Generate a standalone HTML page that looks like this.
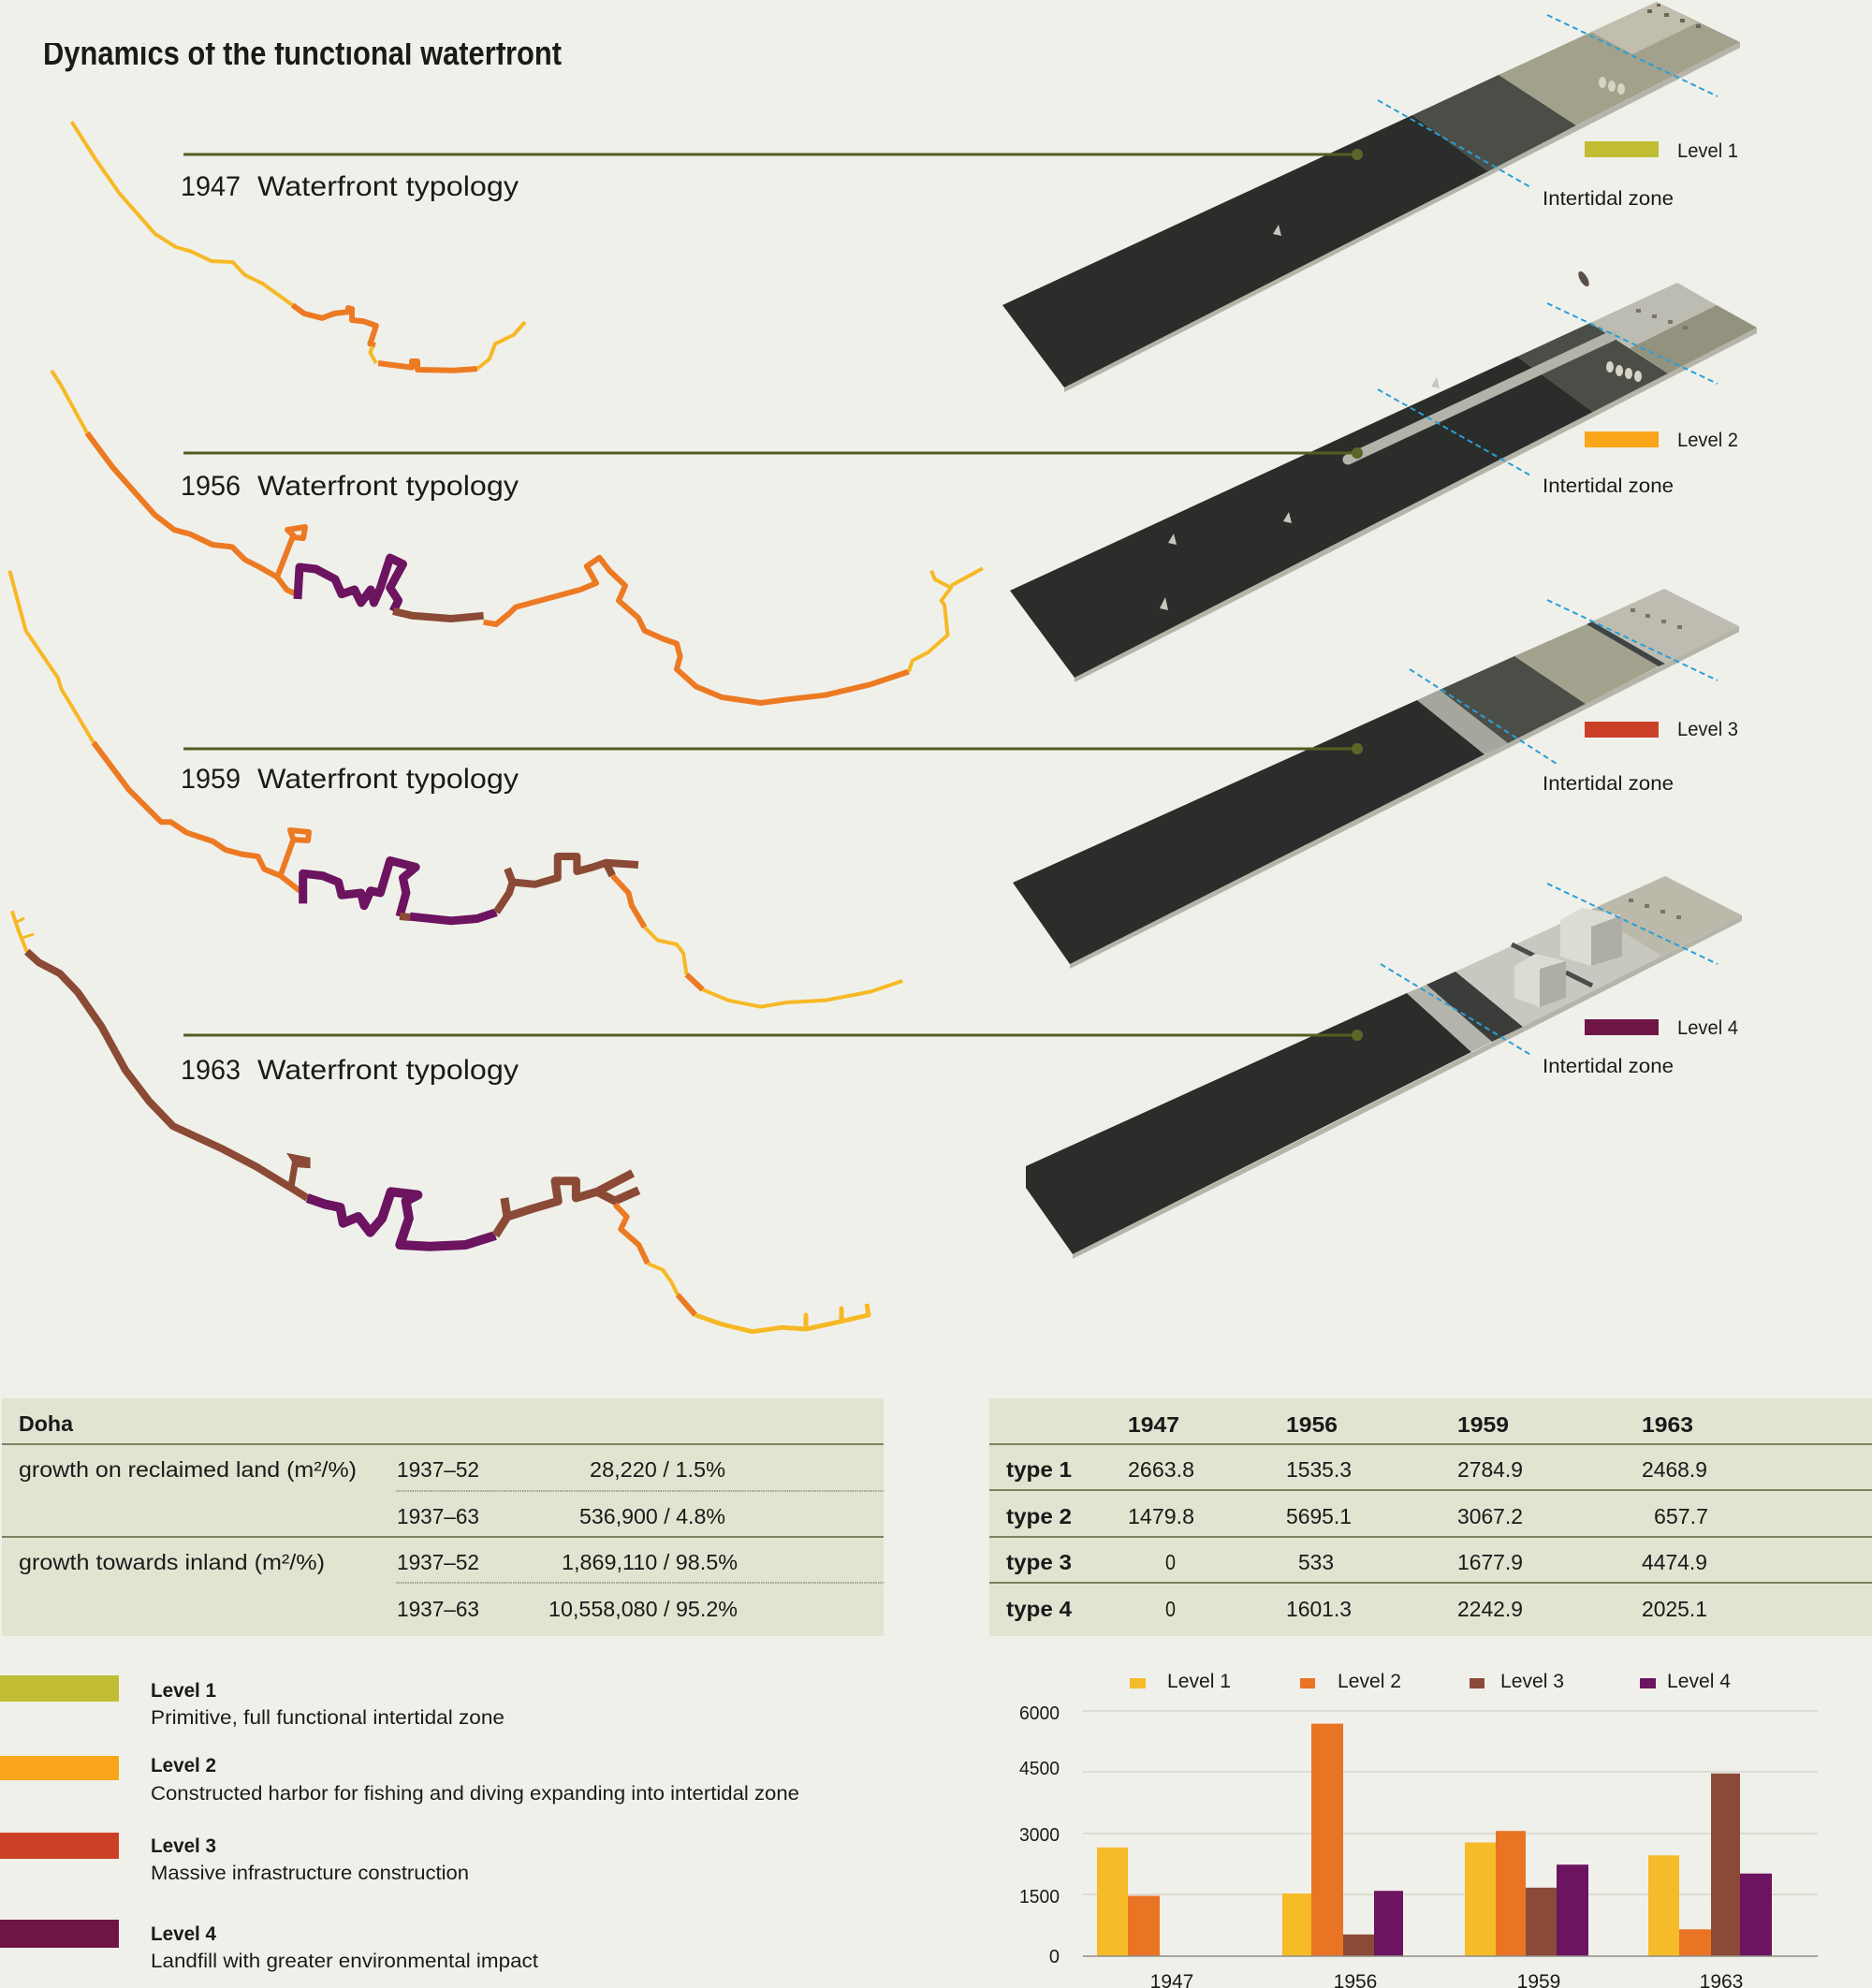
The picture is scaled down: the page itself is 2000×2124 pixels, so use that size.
<!DOCTYPE html>
<html><head><meta charset="utf-8"><style>
html,body{margin:0;padding:0;background:#f0f0eb;}
svg{display:block;}
text{font-family:"Liberation Sans",sans-serif;fill:#1a1a1a;}
</style></head><body>
<svg width="2000" height="2124" viewBox="0 0 2000 2124" xmlns="http://www.w3.org/2000/svg">
<defs><clipPath id="tc"><rect x="0" y="46" width="900" height="60"/></clipPath></defs>
<rect width="2000" height="2124" fill="#f0f0eb"/>
<text x="46" y="69" font-size="36" font-weight="bold" textLength="554" lengthAdjust="spacingAndGlyphs" clip-path="url(#tc)">Dynamics of the functional waterfront</text>

<!-- STRIP 1 -->
<polygon points="1137,414 1353,303 1859,45 1859,51 1353,309 1137,419" fill="#b4b4a8"/>
<polygon points="1071,326 1509,123 1590,183 1137,414" fill="#2b2d2b"/>
<polygon points="1509,123 1601,80 1684,134 1590,183" fill="#4b4e47"/>
<polygon points="1601,80 1770,2 1859,45 1684,134" fill="#a2a18b"/>
<polygon points="1700,34 1770,2 1814,24 1744,58" fill="#c2bead"/>
<g fill="#6d6657"><rect x="1760" y="10" width="5" height="4"/><rect x="1778" y="14" width="5" height="4"/><rect x="1795" y="20" width="5" height="4"/><rect x="1812" y="26" width="5" height="4"/><rect x="1770" y="4" width="4" height="3"/></g>
<g fill="#d8d4c4"><ellipse cx="1712" cy="88" rx="4" ry="6"/><ellipse cx="1722" cy="92" rx="4" ry="6"/><ellipse cx="1732" cy="95" rx="4" ry="6"/></g>
<polygon points="1360,250 1366,240 1369,252" fill="#c8c6bc"/>
<!-- STRIP 2 -->
<polygon points="1148,724 1400,595 1877,350 1877,356 1400,601 1148,729" fill="#b4b4a8"/>
<polygon points="1079,631 1621,381 1702,440 1148,724" fill="#2b2d2b"/>
<polygon points="1621,381 1699,345 1782,399 1702,440" fill="#4b4e47"/>
<polygon points="1699,345 1792,302 1834,326 1741,372" fill="#bdbcb2"/>
<polygon points="1741,372 1834,326 1877,350 1782,399" fill="#93927f"/>
<line x1="1440" y1="491" x2="1722" y2="359" stroke="#b3b3aa" stroke-width="11" stroke-linecap="round"/>
<g fill="#d8d4c4"><ellipse cx="1720" cy="392" rx="4" ry="6"/><ellipse cx="1730" cy="396" rx="4" ry="6"/><ellipse cx="1740" cy="399" rx="4" ry="6"/><ellipse cx="1750" cy="402" rx="4" ry="6"/></g>
<g fill="#7a7466"><rect x="1748" y="330" width="5" height="4"/><rect x="1765" y="336" width="5" height="4"/><rect x="1782" y="342" width="5" height="4"/><rect x="1798" y="348" width="5" height="4"/></g>
<polygon points="1529,413 1535,403 1538,415" fill="#c8c6bc"/>
<polygon points="1371,557 1377,547 1380,559" fill="#c8c6bc"/>
<polygon points="1248,580 1254,570 1257,582" fill="#c8c6bc"/>
<polygon points="1239,650 1245,638 1248,652" fill="#c8c6bc"/>
<ellipse cx="1692" cy="298" rx="4" ry="9" fill="#5a5048" transform="rotate(-30 1692 298)"/>
<!-- STRIP 3 -->
<polygon points="1143,1030 1400,900 1858,669 1858,675 1400,906 1143,1035" fill="#b4b4a8"/>
<polygon points="1082,943 1514,748 1586,806 1143,1030" fill="#2b2d2b"/>
<polygon points="1514,748 1538,737 1611,794 1586,806" fill="#a6a69e"/>
<polygon points="1538,737 1618,701 1694,752 1611,794" fill="#4b4e47"/>
<polygon points="1618,701 1695,667 1772,712 1694,752" fill="#a3a28e"/>
<polygon points="1695,667 1701,664 1779,709 1772,712" fill="#3e4445"/>
<polygon points="1701,664 1778,629 1858,669 1779,709" fill="#bebcb0"/>
<g fill="#7a7466"><rect x="1742" y="650" width="5" height="4"/><rect x="1758" y="656" width="5" height="4"/><rect x="1775" y="662" width="5" height="4"/><rect x="1792" y="668" width="5" height="4"/></g>
<!-- STRIP 4 -->
<polygon points="1146,1340 1400,1212 1861,978 1861,984 1400,1218 1146,1345" fill="#b4b4a8"/>
<polygon points="1096,1246 1503,1061 1572,1124 1146,1340 1096,1269" fill="#2b2d2b"/>
<polygon points="1503,1061 1524,1052 1594,1113 1572,1124" fill="#b4b4ac"/>
<polygon points="1524,1052 1555,1038 1627,1097 1594,1113" fill="#3b3d3b"/>
<polygon points="1555,1038 1779,936 1861,978 1627,1097" fill="#c8c8c1"/>
<polygon points="1697,973 1779,936 1861,978 1775,1021" fill="#bcb9ab"/>
<line x1="1615" y1="1009" x2="1641" y2="1022" stroke="#4a4c4a" stroke-width="5"/>
<line x1="1673" y1="1039" x2="1701" y2="1053" stroke="#4a4c4a" stroke-width="5"/>
<g fill="#7a7466"><rect x="1740" y="960" width="5" height="4"/><rect x="1757" y="966" width="5" height="4"/><rect x="1774" y="972" width="5" height="4"/><rect x="1791" y="978" width="5" height="4"/></g>
<polygon points="1667,983 1690,970 1733,978 1733,1022 1700,1032 1667,1022" fill="#dcdcd5"/>
<polygon points="1700,990 1733,978 1733,1022 1700,1032" fill="#aeaea6"/>
<polygon points="1618,1032 1640,1019 1673,1027 1673,1066 1645,1076 1618,1066" fill="#dcdcd5"/>
<polygon points="1645,1035 1673,1027 1673,1066 1645,1076" fill="#aeaea6"/>

<!-- blue dashed lines -->
<g stroke="#2a9fd6" stroke-width="2" stroke-dasharray="6 4" fill="none">
<line x1="1472" y1="107" x2="1637" y2="201"/><line x1="1653" y1="16" x2="1835" y2="103"/>
<line x1="1472" y1="416" x2="1637" y2="509"/><line x1="1653" y1="324" x2="1835" y2="410"/>
<line x1="1506" y1="715" x2="1663" y2="816"/><line x1="1653" y1="641" x2="1835" y2="727"/>
<line x1="1475" y1="1030" x2="1637" y2="1128"/><line x1="1653" y1="944" x2="1835" y2="1030"/>
</g>

<!-- connector lines -->
<g stroke="#525e22" stroke-width="3">
<line x1="196" y1="165" x2="1450" y2="165"/><line x1="196" y1="484" x2="1450" y2="484"/>
<line x1="196" y1="800" x2="1450" y2="800"/><line x1="196" y1="1106" x2="1450" y2="1106"/>
</g>
<g fill="#5a6626"><circle cx="1450" cy="165" r="6"/><circle cx="1450" cy="484" r="6"/><circle cx="1450" cy="800" r="6"/><circle cx="1450" cy="1106" r="6"/></g>

<!-- headings -->
<g font-size="30">
<text x="193" y="209" textLength="64" lengthAdjust="spacingAndGlyphs">1947</text><text x="275" y="209" textLength="279" lengthAdjust="spacingAndGlyphs">Waterfront typology</text>
<text x="193" y="529" textLength="64" lengthAdjust="spacingAndGlyphs">1956</text><text x="275" y="529" textLength="279" lengthAdjust="spacingAndGlyphs">Waterfront typology</text>
<text x="193" y="842" textLength="64" lengthAdjust="spacingAndGlyphs">1959</text><text x="275" y="842" textLength="279" lengthAdjust="spacingAndGlyphs">Waterfront typology</text>
<text x="193" y="1153" textLength="64" lengthAdjust="spacingAndGlyphs">1963</text><text x="275" y="1153" textLength="279" lengthAdjust="spacingAndGlyphs">Waterfront typology</text>
</g>

<!-- right legend -->
<rect x="1693" y="151" width="79" height="17" fill="#c0bd33"/>
<rect x="1693" y="461" width="79" height="17" fill="#faa61a"/>
<rect x="1693" y="771" width="79" height="17" fill="#cb4027"/>
<rect x="1693" y="1089" width="79" height="17" fill="#6f1546"/>
<g font-size="21">
<text x="1792" y="168" textLength="65" lengthAdjust="spacingAndGlyphs">Level 1</text>
<text x="1648" y="219" textLength="140" lengthAdjust="spacingAndGlyphs">Intertidal zone</text>
<text x="1792" y="477" textLength="65" lengthAdjust="spacingAndGlyphs">Level 2</text>
<text x="1648" y="526" textLength="140" lengthAdjust="spacingAndGlyphs">Intertidal zone</text>
<text x="1792" y="786" textLength="65" lengthAdjust="spacingAndGlyphs">Level 3</text>
<text x="1648" y="844" textLength="140" lengthAdjust="spacingAndGlyphs">Intertidal zone</text>
<text x="1792" y="1105" textLength="65" lengthAdjust="spacingAndGlyphs">Level 4</text>
<text x="1648" y="1146" textLength="140" lengthAdjust="spacingAndGlyphs">Intertidal zone</text>
</g>

<!-- COASTLINES -->
<g fill="none" stroke-linejoin="round" stroke-linecap="butt">
<!-- 1947 -->
<polyline stroke="#f6b925" stroke-width="4" points="76.5,130 102,170 127.6,206.6 165.8,250 188,264 204,268.6 226,279 248.7,280 261.5,293.8 280.6,303 299.7,316.8 312.5,326"/>
<polyline stroke="#ec7a23" stroke-width="6" points="312.5,326 325,335 344,339.8 357,335 373,333 372,329 376,330 376,342 389,343.4 401.8,348 398,360 395.4,367.3 401,369"/>
<polyline stroke="#f6b925" stroke-width="4" points="398,370 395.4,376.5 401.8,388"/>
<polyline stroke="#ec7a23" stroke-width="6" points="404,388 440,392.6 440,386 446,386 446,395 484.7,395.8 510,394"/>
<polyline stroke="#f6b925" stroke-width="4" points="510,394 523,383.4 529,367.3 548.5,358 561,344"/>
<!-- 1956 -->
<polyline stroke="#f6b925" stroke-width="4" points="55.1,396 65.4,412 93,462.6"/>
<polyline stroke="#ec7a23" stroke-width="6" points="93,462.6 120.5,499.4 165.3,550 186,566 203,570.6 227,582 248,584.3 261.7,598 275.5,605 296,616.5 306.5,630.3 316.8,634.8"/>
<polyline stroke="#ec7a23" stroke-width="6" points="296,616.5 313.4,572 307,566 326,563 324,575 313,574"/>
<polyline stroke="#6c1460" stroke-width="9" points="318,640 320,606 337.5,608 358,618.8 365,634.8 378.8,630 385.7,644 396,630 399.5,644 406.4,628 416.7,596 430.5,602.7 416.7,628 425.6,641.7 420,653"/>
<polyline stroke="#8b4a35" stroke-width="8" points="420,653 440.8,657.8 482,661 516.6,657.8"/>
<polyline stroke="#ec7a23" stroke-width="6" points="516.6,664.7 530,667 544,655.5 551,648.6 585.4,639.4 620,630 637,623 626.8,605 640.5,595.8 651,609.6 668,625.7 661,641.7 681.9,660 688.7,673.9 709.4,683 723,687.6 726.6,701.4 723,715 743.8,733.6 771.4,745 812.7,751 840.3,747.3 881.6,742.7 929.8,731.3 971,717.5"/>
<polyline stroke="#f6b925" stroke-width="4" points="971,717.5 974.6,706 991.8,696.8 1012.5,678.5 1009,646 1005.6,641.7 1016,628 998.7,618.8 995,609.6"/>
<polyline stroke="#f6b925" stroke-width="4" points="1016,625.7 1050,607.3"/>
<!-- 1959 -->
<polyline stroke="#f6b925" stroke-width="4" points="10.3,609.6 27.6,673.9 62,724.4 65.4,735.9 99.9,793.3"/>
<polyline stroke="#ec7a23" stroke-width="6" points="99.9,793.3 137.7,843.8 172.2,878.2 182.5,878.2 199.7,889.7 227.3,898.9 241,908 258.3,912.6 275.5,915 282.4,928.7 299.6,935.6 320.3,951.7"/>
<polyline stroke="#ec7a23" stroke-width="6" points="299.6,935.6 313.4,897 310,887 330,889 329,898 313,897"/>
<polyline stroke="#6c1460" stroke-width="9" points="323.7,965.4 323.7,933.3 344.4,935.6 361.6,942.5 365,956.3 385.7,954 389,967.7 396,951.7 406.4,954 416.7,919.5 444.2,926.4 430.5,937.9 433.9,954 427,979.2"/>
<polyline stroke="#6c1460" stroke-width="9" points="438,979.2 482,983.8 509.7,981.5 530.3,974.6"/>
<polyline stroke="#8b4a35" stroke-width="8" points="427,979 438,980"/>
<polyline stroke="#8b4a35" stroke-width="8" points="530.3,974.6 544,954 547.6,942.5 571.7,944.8 595.8,937.9 595.8,915 616.4,915 616.4,931 633.7,926.4 647.4,921.8 654.3,935.6"/>
<polyline stroke="#8b4a35" stroke-width="8" points="647.4,921.8 681.9,924"/>
<polyline stroke="#8b4a35" stroke-width="8" points="547.6,942.5 542,928"/>
<polyline stroke="#ec7a23" stroke-width="6" points="654.3,935.6 671.5,954 675,967.7 688.7,990.7"/>
<polyline stroke="#f6b925" stroke-width="4" points="688.7,990.7 702.5,1004.5 723,1009 730,1018.3 733.5,1041.2"/>
<polyline stroke="#ec7a23" stroke-width="6" points="733.5,1041.2 750.7,1057.3"/>
<polyline stroke="#f6b925" stroke-width="4" points="750.7,1057.3 778.3,1068.8 812.7,1075.7 840.3,1071 881.6,1068.8 929.8,1059.6 964.2,1048"/>
<!-- 1963 -->
<polyline stroke="#f6b925" stroke-width="4" points="12.8,973.3 20,995 28.7,1016.7"/>
<polyline stroke="#f6b925" stroke-width="3" points="18,985 26,981"/>
<polyline stroke="#f6b925" stroke-width="3" points="24,1002 36,998"/>
<polyline stroke="#8b4a35" stroke-width="8" points="28.7,1016.7 41.5,1028.3 63.8,1040 83,1060 108.4,1096.7 134,1143.3 159.4,1176.7 185,1203.3 236,1226.7 274.2,1246.7 312.5,1270 328.4,1280"/>
<polyline stroke="#8b4a35" stroke-width="7" points="311,1268 315.7,1240"/>
<polygon fill="#8b4a35" points="306,1231.7 331.6,1236.7 331.6,1248.3 315.7,1247"/>
<polyline stroke="#6c1460" stroke-width="10" points="328.4,1280 347.6,1286.7 363.5,1290 366.7,1306.7 382.7,1300 395.4,1316.7 408.2,1301.7 417.7,1273.3 446.4,1276.7 433.7,1283.3 436.9,1301.7 427.3,1330 459.2,1331.7 497.4,1330 529.3,1320"/>
<polyline stroke="#8b4a35" stroke-width="9" points="529.3,1320 542,1300 538.9,1280"/>
<polyline stroke="#8b4a35" stroke-width="9" points="542,1300 567.6,1291.7 596.3,1283.3 593,1261.7 615.4,1261.7 615.4,1280 637.8,1273.3 656.9,1263.3 676,1253.3"/>
<polyline stroke="#8b4a35" stroke-width="9" points="637.8,1273.3 656.9,1283 682.4,1271.7"/>
<polyline stroke="#ec7a23" stroke-width="6" points="656.9,1286.7 669.6,1300 663.3,1313.3 682.4,1330 692,1350"/>
<polyline stroke="#f6b925" stroke-width="4" points="692,1350 708,1356.7 717.5,1370 723.9,1383.3"/>
<polyline stroke="#ec7a23" stroke-width="6" points="723.9,1383.3 743,1405"/>
<polyline stroke="#f6b925" stroke-width="5" points="743,1405 771.7,1415 803.6,1422.7 835.5,1418.3 861,1420 861,1405 861,1420 899,1411.7 899,1398 899,1411.7 928,1405 926,1393"/>
</g>

<!-- LEFT TABLE -->
<rect x="2" y="1494" width="942" height="254" fill="#dfe5d0"/>
<g stroke="#7b8162" stroke-width="2"><line x1="2" y1="1543" x2="944" y2="1543"/><line x1="2" y1="1642" x2="944" y2="1642"/></g>
<g stroke="#8a8f78" stroke-width="1.5" stroke-dasharray="1.5 1"><line x1="423" y1="1593" x2="944" y2="1593"/><line x1="423" y1="1691" x2="944" y2="1691"/></g>
<g font-size="23">
<text x="20" y="1529" font-weight="bold" textLength="58" lengthAdjust="spacingAndGlyphs">Doha</text>
<text x="20" y="1578" textLength="361" lengthAdjust="spacingAndGlyphs">growth on reclaimed land (m²/%)</text>
<text x="20" y="1677" textLength="327" lengthAdjust="spacingAndGlyphs">growth towards inland (m²/%)</text>
<text x="424" y="1578" textLength="88" lengthAdjust="spacingAndGlyphs">1937–52</text>
<text x="424" y="1628" textLength="88" lengthAdjust="spacingAndGlyphs">1937–63</text>
<text x="424" y="1677" textLength="88" lengthAdjust="spacingAndGlyphs">1937–52</text>
<text x="424" y="1727" textLength="88" lengthAdjust="spacingAndGlyphs">1937–63</text>
<text x="630" y="1578" textLength="145" lengthAdjust="spacingAndGlyphs">28,220 / 1.5%</text>
<text x="619" y="1628" textLength="156" lengthAdjust="spacingAndGlyphs">536,900 / 4.8%</text>
<text x="600" y="1677" textLength="188" lengthAdjust="spacingAndGlyphs">1,869,110 / 98.5%</text>
<text x="586" y="1727" textLength="202" lengthAdjust="spacingAndGlyphs">10,558,080 / 95.2%</text>
</g>

<!-- RIGHT TABLE -->
<rect x="1057" y="1494" width="943" height="254" fill="#dfe5d0"/>
<g stroke="#7b8162" stroke-width="2"><line x1="1057" y1="1543" x2="2000" y2="1543"/><line x1="1057" y1="1592" x2="2000" y2="1592"/><line x1="1057" y1="1642" x2="2000" y2="1642"/><line x1="1057" y1="1691" x2="2000" y2="1691"/></g>
<g font-size="23" font-weight="bold">
<text x="1205" y="1530" textLength="55" lengthAdjust="spacingAndGlyphs">1947</text>
<text x="1374" y="1530" textLength="55" lengthAdjust="spacingAndGlyphs">1956</text>
<text x="1557" y="1530" textLength="55" lengthAdjust="spacingAndGlyphs">1959</text>
<text x="1754" y="1530" textLength="55" lengthAdjust="spacingAndGlyphs">1963</text>
<text x="1075" y="1578" textLength="70" lengthAdjust="spacingAndGlyphs">type 1</text>
<text x="1075" y="1628" textLength="70" lengthAdjust="spacingAndGlyphs">type 2</text>
<text x="1075" y="1677" textLength="70" lengthAdjust="spacingAndGlyphs">type 3</text>
<text x="1075" y="1727" textLength="70" lengthAdjust="spacingAndGlyphs">type 4</text>
</g>
<g font-size="23">
<text x="1205" y="1578" textLength="71" lengthAdjust="spacingAndGlyphs">2663.8</text>
<text x="1374" y="1578" textLength="70" lengthAdjust="spacingAndGlyphs">1535.3</text>
<text x="1557" y="1578" textLength="70" lengthAdjust="spacingAndGlyphs">2784.9</text>
<text x="1754" y="1578" textLength="70" lengthAdjust="spacingAndGlyphs">2468.9</text>
<text x="1205" y="1628" textLength="71" lengthAdjust="spacingAndGlyphs">1479.8</text>
<text x="1374" y="1628" textLength="70" lengthAdjust="spacingAndGlyphs">5695.1</text>
<text x="1557" y="1628" textLength="70" lengthAdjust="spacingAndGlyphs">3067.2</text>
<text x="1767" y="1628" textLength="58" lengthAdjust="spacingAndGlyphs">657.7</text>
<text x="1245" y="1677" textLength="11" lengthAdjust="spacingAndGlyphs">0</text>
<text x="1387" y="1677" textLength="38" lengthAdjust="spacingAndGlyphs">533</text>
<text x="1557" y="1677" textLength="70" lengthAdjust="spacingAndGlyphs">1677.9</text>
<text x="1754" y="1677" textLength="70" lengthAdjust="spacingAndGlyphs">4474.9</text>
<text x="1245" y="1727" textLength="11" lengthAdjust="spacingAndGlyphs">0</text>
<text x="1374" y="1727" textLength="70" lengthAdjust="spacingAndGlyphs">1601.3</text>
<text x="1557" y="1727" textLength="70" lengthAdjust="spacingAndGlyphs">2242.9</text>
<text x="1754" y="1727" textLength="70" lengthAdjust="spacingAndGlyphs">2025.1</text>
</g>

<!-- BOTTOM LEFT LEGEND -->
<rect x="0" y="1790" width="127" height="28" fill="#c0bd33"/>
<rect x="0" y="1876" width="127" height="26" fill="#faa61a"/>
<rect x="0" y="1958" width="127" height="28" fill="#cb4027"/>
<rect x="0" y="2051" width="127" height="30" fill="#6f1546"/>
<g font-size="21">
<text x="161" y="1813" font-weight="bold" textLength="70" lengthAdjust="spacingAndGlyphs">Level 1</text>
<text x="161" y="1842" textLength="378" lengthAdjust="spacingAndGlyphs">Primitive, full functional intertidal zone</text>
<text x="161" y="1893" font-weight="bold" textLength="70" lengthAdjust="spacingAndGlyphs">Level 2</text>
<text x="161" y="1923" textLength="693" lengthAdjust="spacingAndGlyphs">Constructed harbor for fishing and diving expanding into intertidal zone</text>
<text x="161" y="1979" font-weight="bold" textLength="70" lengthAdjust="spacingAndGlyphs">Level 3</text>
<text x="161" y="2008" textLength="340" lengthAdjust="spacingAndGlyphs">Massive infrastructure construction</text>
<text x="161" y="2073" font-weight="bold" textLength="70" lengthAdjust="spacingAndGlyphs">Level 4</text>
<text x="161" y="2102" textLength="414" lengthAdjust="spacingAndGlyphs">Landfill with greater environmental impact</text>
</g>

<!-- BAR CHART -->
<rect x="1207" y="1793" width="17" height="11" fill="#f5bb29"/>
<rect x="1389" y="1793" width="16" height="11" fill="#e97424"/>
<rect x="1570" y="1793" width="16" height="11" fill="#8b4a37"/>
<rect x="1752" y="1793" width="17" height="11" fill="#6c1460"/>
<g font-size="21">
<text x="1247" y="1803" textLength="68" lengthAdjust="spacingAndGlyphs">Level 1</text>
<text x="1429" y="1803" textLength="68" lengthAdjust="spacingAndGlyphs">Level 2</text>
<text x="1603" y="1803" textLength="68" lengthAdjust="spacingAndGlyphs">Level 3</text>
<text x="1781" y="1803" textLength="68" lengthAdjust="spacingAndGlyphs">Level 4</text>
</g>
<g stroke="#d5d6cc" stroke-width="1.5">
<line x1="1157" y1="1828" x2="1942" y2="1828"/><line x1="1157" y1="1893" x2="1942" y2="1893"/>
<line x1="1157" y1="1959" x2="1942" y2="1959"/><line x1="1157" y1="2024" x2="1942" y2="2024"/>
</g>
<g font-size="20" text-anchor="end">
<text x="1132" y="1837" textLength="43" lengthAdjust="spacingAndGlyphs">6000</text>
<text x="1132" y="1896" textLength="43" lengthAdjust="spacingAndGlyphs">4500</text>
<text x="1132" y="1967" textLength="43" lengthAdjust="spacingAndGlyphs">3000</text>
<text x="1132" y="2033" textLength="43" lengthAdjust="spacingAndGlyphs">1500</text>
<text x="1132" y="2097">0</text>
</g>
<g>
<rect x="1172" y="1973.8" width="33" height="116.2" fill="#f5bb29"/>
<rect x="1205" y="2025.5" width="34" height="64.5" fill="#e97424"/>
<rect x="1370" y="2023" width="31" height="67" fill="#f5bb29"/>
<rect x="1401" y="1841.6" width="34" height="248.4" fill="#e97424"/>
<rect x="1435" y="2066.8" width="33" height="23.2" fill="#8b4a37"/>
<rect x="1468" y="2020.2" width="31" height="69.8" fill="#6c1460"/>
<rect x="1565" y="1968.5" width="33" height="121.5" fill="#f5bb29"/>
<rect x="1598" y="1956.2" width="32" height="133.8" fill="#e97424"/>
<rect x="1630" y="2016.8" width="33" height="73.2" fill="#8b4a37"/>
<rect x="1663" y="1992.2" width="34" height="97.8" fill="#6c1460"/>
<rect x="1761" y="1982.3" width="33" height="107.7" fill="#f5bb29"/>
<rect x="1794" y="2061.3" width="34" height="28.7" fill="#e97424"/>
<rect x="1828" y="1894.8" width="31" height="195.2" fill="#8b4a37"/>
<rect x="1859" y="2001.7" width="34" height="88.3" fill="#6c1460"/>
</g>
<line x1="1157" y1="2090" x2="1942" y2="2090" stroke="#8e8e86" stroke-width="1.5"/>
<g font-size="21" text-anchor="middle">
<text x="1252" y="2124">1947</text>
<text x="1448" y="2124">1956</text>
<text x="1644" y="2124">1959</text>
<text x="1839" y="2124">1963</text>
</g>
</svg>
</body></html>
